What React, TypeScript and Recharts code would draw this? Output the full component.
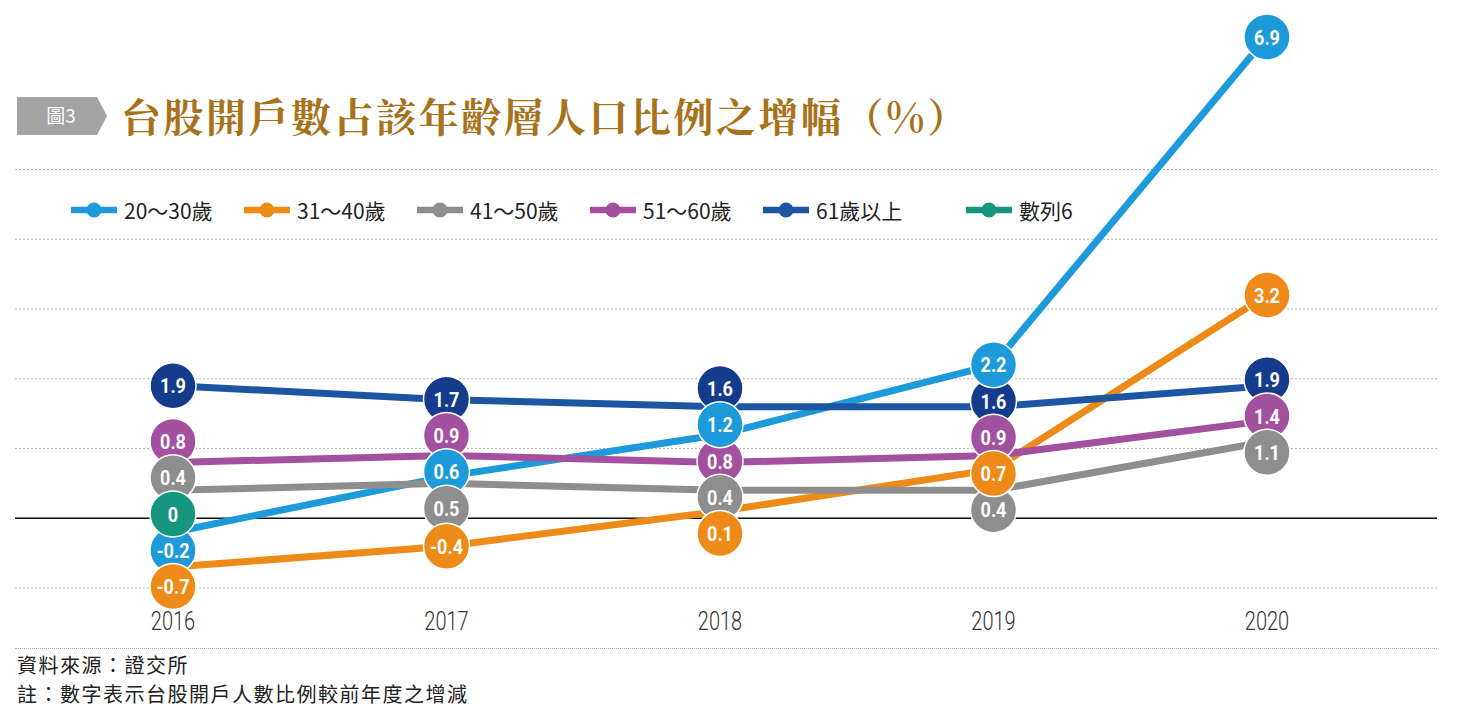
import React from 'react';
import { LineChart, Line, XAxis, YAxis, CartesianGrid, ReferenceLine } from 'recharts';

// ---------- data ----------
const years = ['2016', '2017', '2018', '2019', '2020'];
const age20to30: (number | null)[] = [-0.2, 0.6, 1.2, 2.2, 6.9];
const age31to40: (number | null)[] = [-0.7, -0.4, 0.1, 0.7, 3.2];
const age41to50: (number | null)[] = [0.4, 0.5, 0.4, 0.4, 1.1];
const age51to60: (number | null)[] = [0.8, 0.9, 0.8, 0.9, 1.4];
const age61plus: (number | null)[] = [1.9, 1.7, 1.6, 1.6, 1.9];
const series6: (number | null)[] = [0, null, null, null, null];
const yTicks = [-1, 0, 1, 2, 3, 4, 5];

const TITLE = '台股開戶數占該年齡層人口比例之增幅（%）';
const FIG = '圖3';
const SOURCE = '資料來源：證交所';
const NOTE = '註：數字表示台股開戶人數比例較前年度之增減';

type S = { key: string; name: string; values: (number | null)[]; color: string; bubble: string };
const SERIES: S[] = [
  { key: 'a', name: '20～30歲', values: age20to30, color: '#1C9AD9', bubble: '#1C9AD9' },
  { key: 'b', name: '31～40歲', values: age31to40, color: '#EE8A17', bubble: '#EE8A17' },
  { key: 'c', name: '41～50歲', values: age41to50, color: '#8E8E8E', bubble: '#8E8E8E' },
  { key: 'd', name: '51～60歲', values: age51to60, color: '#A3509F', bubble: '#A3509F' },
  { key: 'e', name: '61歲以上', values: age61plus, color: '#1C56A3', bubble: '#143B8C' },
  { key: 'f', name: '數列6', values: series6, color: '#16957F', bubble: '#16957F' },
];
// z-order of the value bubbles
const LABEL_ORDER = ['e', 'd', 'a', 'c', 'b', 'f'];

// ---------- label de-overlap (in value units) ----------
const SEP = 0.52;
function spreadColumn(items: { key: string; v: number }[]) {
  const sorted = [...items].sort((p, q) => q.v - p.v);
  let clusters = sorted.map((it) => ({ members: [it], center: it.v }));
  let merged = true;
  while (merged) {
    merged = false;
    for (let i = 1; i < clusters.length; i++) {
      const a = clusters[i - 1];
      const b = clusters[i];
      const aLow = a.center - (SEP * (a.members.length - 1)) / 2;
      const bHigh = b.center + (SEP * (b.members.length - 1)) / 2;
      if (aLow - bHigh < SEP - 1e-9) {
        const members = [...a.members, ...b.members];
        const center = members.reduce((s, m) => s + m.v, 0) / members.length;
        clusters.splice(i - 1, 2, { members, center });
        merged = true;
        break;
      }
    }
  }
  const out: Record<string, number> = {};
  clusters.forEach((c) =>
    c.members.forEach((m, j) => {
      out[m.key] = c.center + SEP * ((c.members.length - 1) / 2 - j);
    })
  );
  return out;
}

const rows = years.map((year, i) => {
  const row: Record<string, any> = { year };
  const items: { key: string; v: number }[] = [];
  SERIES.forEach((s) => {
    const v = s.values[i];
    row[s.key] = v;
    if (v != null) items.push({ key: s.key, v });
  });
  const spread = spreadColumn(items);
  SERIES.forEach((s) => {
    row[s.key + '_lbl'] = s.values[i] == null ? null : spread[s.key];
  });
  return row;
});

const NUMF = 'Roboto, "Noto Sans", sans-serif';
const CJK = '"Noto Sans CJK TC", "Noto Sans", sans-serif';

const makeBubble = (s: S) => (props: any) => {
  const { cx, cy, index } = props;
  const v = s.values[index];
  const k = `${s.key}-${index}`;
  if (v == null || cx == null || cy == null || isNaN(cy)) return <g key={k} />;
  return (
    <g key={k}>
      <circle cx={cx} cy={cy} r={23} fill={s.bubble} stroke="#ffffff" strokeWidth={1.5} />
      <g transform={`translate(${cx},${cy}) scale(0.86,1)`}>
        <text
          x={0}
          y={0}
          dy="0.36em"
          textAnchor="middle"
          fill="#ffffff"
          fontSize={21}
          fontWeight={700}
          fontFamily={NUMF}
        >
          {String(v)}
        </text>
      </g>
    </g>
  );
};

const YearTick = (props: any) => {
  const { x, y, payload } = props;
  return (
    <g transform={`translate(${x},${y}) scale(0.8,1)`}>
      <text
        x={0}
        y={0}
        dy="0.71em"
        textAnchor="middle"
        fill="#333333"
        fontSize={25}
        fontWeight={300}
        fontFamily={NUMF}
      >
        {payload.value}
      </text>
    </g>
  );
};

const LegendMarker = ({ color }: { color: string }) => (
  <svg width={46} height={16} style={{ display: 'block' }}>
    <line x1={0} y1={8} x2={46} y2={8} stroke={color} strokeWidth={6.5} />
    <circle cx={23} cy={8} r={7.5} fill={color} />
  </svg>
);

export default function App() {
  return (
    <div
      style={{
        position: 'absolute',
        left: 0,
        top: 0,
        width: 1471,
        height: 719,
        background: '#ffffff',
        overflow: 'hidden',
      }}
    >
      <div style={{ position: 'absolute', left: 0, top: 0 }}>
        <LineChart
          width={1471}
          height={719}
          data={rows}
          margin={{ top: 30, right: 34, bottom: 101, left: 15 }}
        >
          <CartesianGrid
            vertical={false}
            horizontalValues={yTicks}
            stroke="#b5b5b5"
            strokeDasharray="2 2"
          />
          <XAxis
            dataKey="year"
            scale="point"
            padding={{ left: 158, right: 170 }}
            axisLine={false}
            tickLine={false}
            height={30}
            tickMargin={18}
            interval={0}
            tick={<YearTick />}
          />
          <YAxis hide type="number" domain={[-1, 7]} ticks={yTicks} />
          <ReferenceLine y={0} stroke="#111111" strokeWidth={1.5} />
          {SERIES.filter((s) => s.key !== 'f').map((s) => (
            <Line
              key={s.key}
              dataKey={s.key}
              stroke={s.color}
              strokeWidth={7}
              dot={false}
              activeDot={false}
              isAnimationActive={false}
              type="linear"
            />
          ))}
          {LABEL_ORDER.map((k) => {
            const s = SERIES.find((x) => x.key === k)!;
            return (
              <Line
                key={k + '_lbl'}
                dataKey={k + '_lbl'}
                stroke="none"
                strokeWidth={0}
                dot={makeBubble(s)}
                activeDot={false}
                isAnimationActive={false}
                legendType="none"
              />
            );
          })}
        </LineChart>
      </div>

      {/* title */}
      <svg width={92} height={38} style={{ position: 'absolute', left: 17, top: 97 }}>
        <polygon points="0,0 80,0 90,19 80,38 0,38" fill="#A3A3A3" />
        <text
          x={44}
          y={19}
          dy="0.36em"
          textAnchor="middle"
          fill="#ffffff"
          fontSize={19}
          fontFamily={CJK}
        >
          {FIG}
        </text>
      </svg>
      <div
        style={{
          position: 'absolute',
          left: 121,
          top: 90,
          height: 50,
          lineHeight: '50px',
          fontSize: 40,
          fontWeight: 700,
          letterSpacing: 2.5,
          color: '#A8721B',
          fontFamily: '"Noto Serif CJK TC", "Noto Sans CJK TC", serif',
          whiteSpace: 'nowrap',
        }}
      >
        {TITLE}
      </div>

      {/* legend */}
      <div
        style={{
          position: 'absolute',
          left: 71,
          top: 197,
          height: 26,
          display: 'flex',
          alignItems: 'center',
        }}
      >
        {SERIES.map((s, i) => (
          <div
            key={s.key}
            style={{
              display: 'flex',
              alignItems: 'center',
              width: i === SERIES.length - 1 ? 'auto' : 173,
              marginLeft: i === SERIES.length - 1 ? 30 : 0,
            }}
          >
            <LegendMarker color={s.color} />
            <span
              style={{
                marginLeft: 7,
                fontSize: 21,
                color: '#222222',
                fontFamily: CJK,
                whiteSpace: 'nowrap',
              }}
            >
              {s.name}
            </span>
          </div>
        ))}
      </div>

      {/* separator + notes */}
      <div
        style={{
          position: 'absolute',
          left: 15,
          top: 648,
          width: 1422,
          borderTop: '1px dotted #b0b0b0',
        }}
      />
      <div
        style={{
          position: 'absolute',
          left: 17,
          top: 650,
          fontSize: 20,
          lineHeight: '29px',
          letterSpacing: 1.5,
          color: '#222222',
          fontFamily: CJK,
          whiteSpace: 'nowrap',
        }}
      >
        <div>{SOURCE}</div>
        <div>{NOTE}</div>
      </div>
    </div>
  );
}
